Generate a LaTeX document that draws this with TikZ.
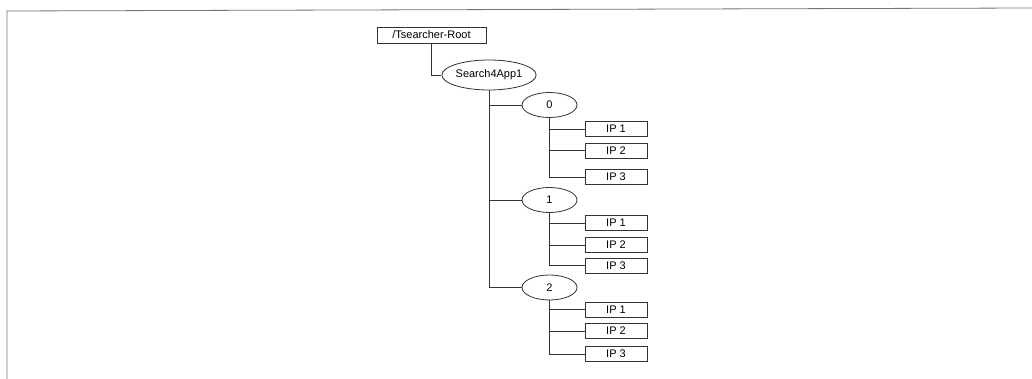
\documentclass[tikz,border=0pt]{standalone}
\usepackage{fontspec}
\setmainfont{Liberation Sans}
\usetikzlibrary{shapes.geometric}
\begin{document}
\begin{tikzpicture}[x=1pt,y=-1pt,
  ln/.style={draw=black!80,line width=0.8pt},
  rbox/.style={ln,rectangle,inner sep=0pt,font=\fontsize{11}{12}\selectfont},
  ell/.style={ln,ellipse,inner sep=0pt,font=\fontsize{11}{12}\selectfont},
  ipbox/.style={rbox,minimum width=62pt,minimum height=15pt},
  numell/.style={ell,minimum width=55pt,minimum height=25pt},
  conn/.style={draw=black!80,line width=0.8pt}]
\useasboundingbox (0,0) rectangle (1032,379);
\draw[draw=black!55,line width=0.8pt] (7,379) -- (7,11) -- (1032,8);
\node[rbox,minimum width=109pt,minimum height=16pt] (root) at (431.5,35) {/Tsearcher-Root};
\node[ell,minimum width=92pt,minimum height=30pt] (s4a) at (489,75) {Search4App1};
\node[numell] (e0) at (549.5,105) {0};
\node[numell] (e1) at (549.5,200) {1};
\node[numell] (e2) at (549.5,287.5) {2};
\node[ipbox] (a1) at (616,129) {IP 1};
\node[ipbox] (a2) at (616,150.5) {IP 2};
\node[ipbox] (a3) at (616,177) {IP 3};
\node[ipbox] (b1) at (616,223) {IP 1};
\node[ipbox] (b2) at (616,245) {IP 2};
\node[ipbox] (b3) at (616,265.5) {IP 3};
\node[ipbox] (c1) at (616,309.5) {IP 1};
\node[ipbox] (c2) at (616,331) {IP 2};
\node[ipbox] (c3) at (616,354) {IP 3};
\draw[conn] (root.south) |- (s4a.west);
\draw[conn] (s4a.south) |- (e0.west);
\draw[conn] (s4a.south) |- (e1.west);
\draw[conn] (s4a.south) |- (e2.west);
\foreach \e/\p in {e0/a,e1/b,e2/c}{
  \draw[conn] (\e.south) |- (\p1.west);
  \draw[conn] (\e.south) |- (\p2.west);
  \draw[conn] (\e.south) |- (\p3.west);
}
\end{tikzpicture}
\end{document}
